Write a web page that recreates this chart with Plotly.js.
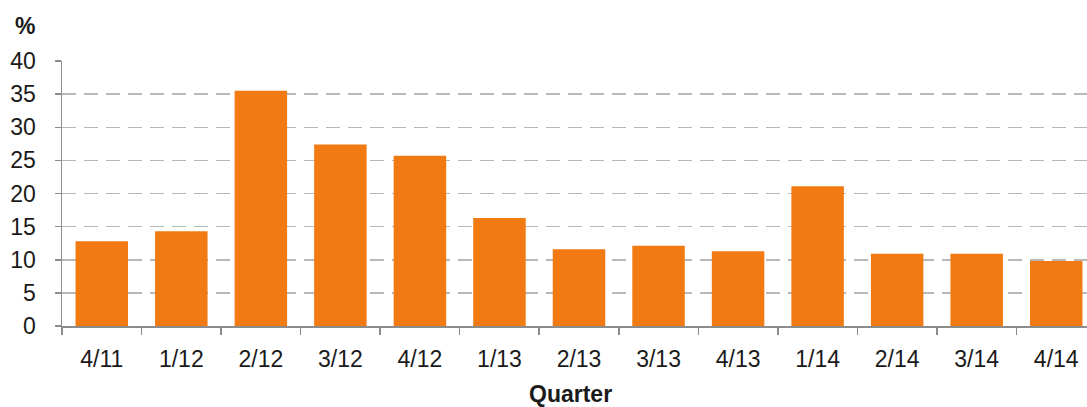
<!DOCTYPE html>
<html>
<head>
<meta charset="utf-8">
<script src="https://cdn.plot.ly/plotly-3.0.1.min.js"></script>
<style>
html,body{margin:0;padding:0;overflow:hidden;background:#fff;}
#chart{width:1096px;height:407px;}
</style>
</head>
<body>
<div id="chart"></div>
<script>
const quarters = ["4/11","1/12","2/12","3/12","4/12","1/13","2/13","3/13","4/13","1/14","2/14","3/14","4/14"];
const values = [12.8, 14.3, 35.5, 27.4, 25.7, 16.3, 11.6, 12.1, 11.3, 21.1, 10.9, 10.9, 9.8];
const yTicks = [0,5,10,15,20,25,30,35,40];

const trace = {
  type: "bar",
  x: quarters,
  y: values,
  marker: {color: "#F27A12", line: {width: 0}},
  hoverinfo: "x+y"
};

const layout = {
  width: 1096,
  height: 407,
  margin: {l: 62, r: 0, t: 61, b: 81, pad: 0},
  paper_bgcolor: "#ffffff",
  plot_bgcolor: "#ffffff",
  font: {family: "Liberation Sans, Arial, sans-serif", size: 23, color: "#1a1a1a"},
  bargap: 0.34,
  showlegend: false,
  xaxis: {
    type: "category",
    showline: true,
    linecolor: "#8c8c8c",
    linewidth: 1.5,
    ticks: "outside",
    tickson: "boundaries",
    ticklen: 7,
    tickcolor: "#8c8c8c",
    tickwidth: 1.5,
    showgrid: false,
    ticklabelstandoff: 12,
    tickfont: {size: 23, color: "#1a1a1a"}
  },
  yaxis: {
    range: [0, 40],
    tickvals: yTicks,
    ticktext: yTicks.map(String),
    showline: true,
    linecolor: "#8c8c8c",
    linewidth: 1.5,
    ticks: "outside",
    ticklen: 6,
    tickcolor: "#8c8c8c",
    tickwidth: 1.5,
    showgrid: true,
    gridcolor: "#b8b8b8",
    gridwidth: 1.5,
    griddash: "14px,8px",
    zeroline: false,
    ticklabelstandoff: 14,
    tickfont: {size: 23, color: "#1a1a1a"}
  },
  annotations: [
    {text: "<b>%</b>", xref: "paper", yref: "paper", x: -0.036, y: 1.132,
     xanchor: "center", yanchor: "middle", showarrow: false,
     font: {size: 23, color: "#1a1a1a"}},
    {text: "<b>Quarter</b>", xref: "paper", yref: "paper", x: 0.492, y: -0.255,
     xanchor: "center", yanchor: "middle", showarrow: false,
     font: {size: 23, color: "#1a1a1a"}}
  ]
};

Plotly.newPlot("chart", [trace], layout, {displayModeBar: false, staticPlot: true});
</script>
</body>
</html>
